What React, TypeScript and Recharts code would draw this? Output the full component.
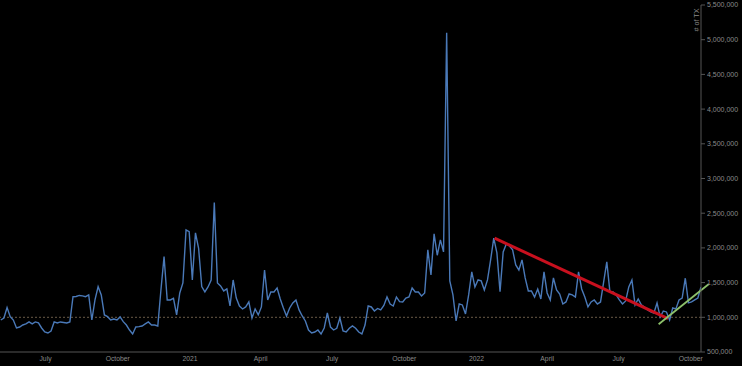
import React from 'react';
import { LineChart, Line, XAxis, YAxis, ReferenceLine } from 'recharts';

// ---- data ----
const START_DATE = '2020-05-05';
const STEP_DAYS = 4;

const txCounts = [
  961000, 990000, 1140000, 1009000, 961000, 846000, 860000, 889000, 904000, 933000,
  904000, 933000, 920000, 846000, 788000, 774000, 803000, 933000, 918000, 933000,
  925000, 918000, 933000, 1297000, 1300000, 1315000, 1308000, 1297000, 1322000, 961000,
  1250000, 1442000, 1322000, 1034000, 1009000, 961000, 975000, 961000, 1005000, 937000,
  889000, 817000, 760000, 860000, 865000, 875000, 904000, 933000, 889000, 889000,
  875000, 1394000, 1874000, 1250000, 1250000, 1274000, 1034000, 1350000, 1495000, 2259000,
  2235000, 1538000, 2216000, 1995000, 1442000, 1365000, 1437000, 1538000, 2653000, 1495000,
  1452000, 1380000, 1408000, 1163000, 1538000, 1278000, 1163000, 1120000, 1149000, 1221000,
  990000, 1120000, 1034000, 1149000, 1682000, 1250000, 1365000, 1365000, 1423000, 1264000,
  1134000, 1019000, 1134000, 1207000, 1250000, 1106000, 1019000, 947000, 817000, 774000,
  788000, 817000, 760000, 846000, 1062000, 860000, 817000, 842000, 990000, 803000,
  788000, 842000, 875000, 842000, 788000, 760000, 889000, 1163000, 1149000, 1091000,
  1127000, 1106000, 1170000, 1293000, 1192000, 1163000, 1293000, 1225000, 1221000, 1278000,
  1293000, 1423000, 1365000, 1365000, 1308000, 1351000, 1971000, 1610000, 2202000, 1894000,
  2115000, 1942000, 5100000, 1524000, 1322000, 947000, 1192000, 1178000, 1048000, 1322000,
  1654000, 1437000, 1538000, 1524000, 1394000, 1538000, 1827000, 2140000, 1928000, 1370000,
  1942000, 2057000, 2028000, 1971000, 1754000, 1682000, 1827000, 1567000, 1380000, 1380000,
  1293000, 1408000, 1264000, 1654000, 1351000, 1250000, 1567000, 1394000, 1336000, 1192000,
  1221000, 1336000, 1322000, 1293000, 1654000, 1408000, 1293000, 1149000, 1221000, 1250000,
  1192000, 1221000, 1509000, 1798000, 1365000, 1365000, 1322000, 1250000, 1192000, 1235000,
  1437000, 1538000, 1178000, 1264000, 1178000, 1149000, 1106000, 1077000, 1062000, 1207000,
  1005000, 1091000, 1077000, 961000, 1134000, 1120000, 1250000, 1278000, 1563000, 1207000,
  1221000, 1250000, 1278000, 1437000,
];

const tickDates = [
  '2020-07-01', '2020-10-01', '2021-01-01', '2021-04-01', '2021-07-01',
  '2021-10-01', '2022-01-01', '2022-04-01', '2022-07-01', '2022-10-01',
];
const tickLabels = ['July', 'October', '2021', 'April', 'July', 'October', '2022', 'April', 'July', 'October'];

const yTicks = [500000, 1000000, 1500000, 2000000, 2500000, 3000000, 3500000, 4000000, 4500000, 5000000, 5500000];
const yDomain = [500000, 5500000];
const xDomainDates = ['2020-05-04', '2022-10-14'];

const referenceValue = 1000000;
const redTrend = [
  { date: '2022-01-24', value: 2140000 },
  { date: '2022-09-02', value: 980000 },
];
const greenTrend = [
  { date: '2022-08-21', value: 900000 },
  { date: '2022-10-24', value: 1480000 },
];
const yAxisTitle = '# of TX';

// ---- helpers ----
const EPOCH = Date.parse('2020-01-01T00:00:00Z');
const dayNum = (s: string) => Math.round((Date.parse(s + 'T00:00:00Z') - EPOCH) / 86400000);

const startDay = dayNum(START_DATE);
const chartData = txCounts.map((v, i) => ({ day: startDay + i * STEP_DAYS, value: v }));
const tickDays = tickDates.map(dayNum);
const labelByDay: Record<number, string> = {};
tickDays.forEach((d, i) => { labelByDay[d] = tickLabels[i]; });

const FONT = '"Liberation Sans", Arial, sans-serif';
const TEXT_COLOR = '#8a8a8a';
const AXIS_COLOR = '#555555';

const AxisTitle = (props: any) => {
  const vb = props.viewBox || {};
  const x = (vb.x ?? 701) - 4.5;
  const y = (vb.y ?? 5) + 15;
  return (
    <text
      x={x}
      y={y}
      transform={`rotate(-90, ${x}, ${y})`}
      textAnchor="middle"
      dominantBaseline="central"
      fontSize={7.2}
      fontFamily={FONT}
      fill={TEXT_COLOR}
    >
      {yAxisTitle}
    </text>
  );
};

export default function App() {
  return (
    <div style={{ position: 'absolute', left: 0, top: 0, width: 742, height: 366, background: '#000', overflow: 'hidden' }}>
      <LineChart
        width={742}
        height={366}
        data={chartData}
        margin={{ top: 5, right: 0, bottom: 0, left: 0 }}
      >
        <XAxis
          dataKey="day"
          type="number"
          domain={[dayNum(xDomainDates[0]), dayNum(xDomainDates[1])]}
          ticks={tickDays}
          interval={0}
          tickFormatter={(d: number) => labelByDay[d] ?? ''}
          tick={{ fontSize: 6.8, fill: TEXT_COLOR, fontFamily: FONT }}
          tickLine={false}
          tickSize={0}
          tickMargin={4}
          axisLine={{ stroke: AXIS_COLOR }}
          height={14}
          allowDataOverflow
        />
        <YAxis
          orientation="right"
          width={41}
          domain={yDomain}
          ticks={yTicks}
          interval={0}
          tickFormatter={(n: number) => n.toLocaleString('en-US')}
          tick={{ fontSize: 7, fill: TEXT_COLOR, fontFamily: FONT }}
          tickSize={4}
          tickMargin={2}
          tickLine={{ stroke: AXIS_COLOR }}
          axisLine={{ stroke: AXIS_COLOR }}
          allowDataOverflow
          label={{ content: AxisTitle }}
        />
        <ReferenceLine y={referenceValue} stroke="#6a5a48" strokeDasharray="2 2" />
        <Line
          type="linear"
          dataKey="value"
          stroke="#4a79b8"
          strokeWidth={1.4}
          dot={false}
          activeDot={false}
          isAnimationActive={false}
        />
        <ReferenceLine
          segment={redTrend.map((p) => ({ x: dayNum(p.date), y: p.value }))}
          stroke="#c8101e"
          strokeWidth={3}
          ifOverflow="visible"
        />
        <ReferenceLine
          segment={greenTrend.map((p) => ({ x: dayNum(p.date), y: p.value }))}
          stroke="#8cc06a"
          strokeWidth={1.8}
          ifOverflow="visible"
        />
      </LineChart>
    </div>
  );
}
